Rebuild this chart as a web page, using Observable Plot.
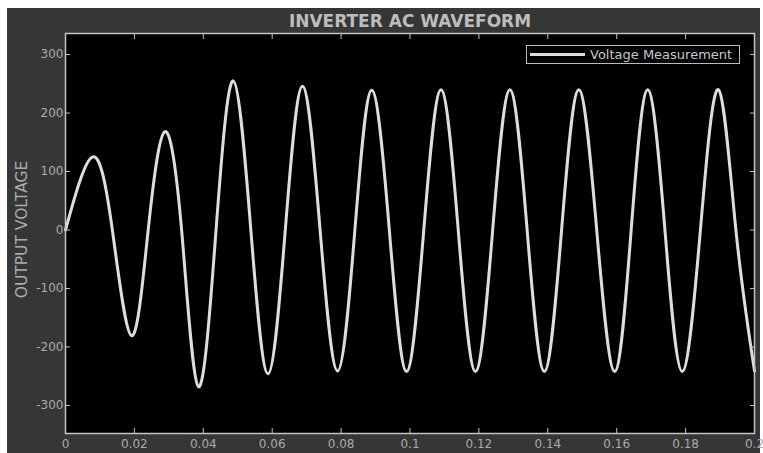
<!DOCTYPE html>
<html><head><meta charset="utf-8">
<script src="https://cdn.jsdelivr.net/npm/d3@7"></script>
<script src="https://cdn.jsdelivr.net/npm/@observablehq/plot@0.6"></script>
<style>
html,body{margin:0;padding:0;background:#fff;width:763px;height:453px;overflow:hidden;}
#wrap{position:absolute;left:7px;top:8px;width:753px;height:445px;background:#363636;}
#legend{position:absolute;left:519px;top:37px;width:212px;height:17px;border:1px solid #bdbdbd;background:#000;font:13px "DejaVu Sans",sans-serif;color:#c8c8c8;display:flex;align-items:center;white-space:nowrap;}
#legend .sw{display:inline-block;width:55px;height:0;border-top:3px solid #dcdcdc;margin:0 5px 0 3px;}
</style></head><body>
<div id="wrap"><div id="legend"><span class="sw"></span><span id="legtext"></span></div></div>
<script>
const titleText = "INVERTER AC WAVEFORM";
const yLabel = "OUTPUT VOLTAGE";
const legendLabel = "Voltage Measurement";

// time (s) of extrema and zero crossings
const timeS = [0, 0.0079, 0.0136, 0.0192, 0.0240, 0.0288, 0.0337, 0.0386, 0.0437, 0.0487,
  0.0538, 0.0588, 0.0638, 0.0688, 0.0739, 0.0790, 0.0840, 0.0889, 0.0940, 0.0990,
  0.1040, 0.1090, 0.1140, 0.1190, 0.1240, 0.1290, 0.1340, 0.1390, 0.1440, 0.1490,
  0.1542, 0.1594, 0.1642, 0.1690, 0.1740, 0.1790, 0.1843, 0.1895, 0.1946, 0.2000];
const voltageV = [0, 125, 0, -181, 0, 168, 0, -268, 0, 255,
  0, -246, 0, 246, 0, -241, 0, 239, 0, -242,
  0, 240, 0, -242, 0, 240, 0, -242, 0, 240,
  0, -242, 0, 240, 0, -242, 0, 240, 0, -241];

const xTicks = [0, 0.02, 0.04, 0.06, 0.08, 0.1, 0.12, 0.14, 0.16, 0.18, 0.2];
const xTickLabels = ["0", "0.02", "0.04", "0.06", "0.08", "0.1", "0.12", "0.14", "0.16", "0.18", "0.2"];
const yTicks = [-300, -200, -100, 0, 100, 200, 300];
const yTickLabels = ["-300", "-200", "-100", "0", "100", "200", "300"];

const data = timeS.map((t, i) => ({t, v: voltageV[i]}));
const axisColor = "#c4c4c4";
const labelColor = "#ababab";

const chart = Plot.plot({
  width: 753, height: 445,
  marginLeft: 58, marginRight: 6, marginTop: 25, marginBottom: 20,
  style: {background: "transparent", fontFamily: "DejaVu Sans, sans-serif", fontSize: "12px", color: labelColor, overflow: "visible"},
  x: {domain: [0, 0.2]},
  y: {domain: [-348, 336]},
  marks: [
    Plot.frame({fill: "#000", stroke: null}),
    Plot.line(data, {x: "t", y: "v", curve: "natural", stroke: "#dedede", strokeWidth: 3}),
    Plot.frame({stroke: axisColor, strokeWidth: 1.5}),
    Plot.axisX(xTicks, {anchor: "bottom", tickSize: -5, tickPadding: 11, stroke: axisColor, fill: labelColor,
      tickFormat: d => xTickLabels[xTicks.indexOf(d)], label: null}),
    Plot.axisX(xTicks, {anchor: "top", tickSize: -5, stroke: axisColor, tickFormat: () => "", label: null}),
    Plot.axisY(yTicks, {anchor: "left", tickSize: -5, tickPadding: 7, stroke: axisColor, fill: labelColor,
      tickFormat: d => yTickLabels[yTicks.indexOf(d)], label: null}),
    Plot.axisY(yTicks, {anchor: "right", tickSize: -5, stroke: axisColor, tickFormat: () => "", label: null}),
    Plot.text([titleText], {frameAnchor: "top", lineAnchor: "middle", dy: -12, fontSize: 17, fontWeight: "bold", fill: "#bdbdbd"}),
    Plot.text([yLabel], {frameAnchor: "left", textAnchor: "middle", lineAnchor: "middle", rotate: -90, dx: -43, dy: -4, fontSize: 15.5, fill: labelColor})
  ]
});
document.getElementById("wrap").prepend(chart);
document.getElementById("legtext").textContent = legendLabel;
</script>
</body></html>
